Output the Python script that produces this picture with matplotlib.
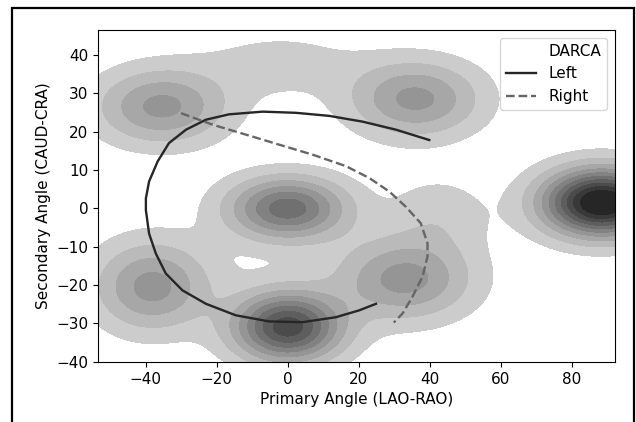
import numpy as np
import matplotlib.pyplot as plt
from matplotlib.lines import Line2D
from matplotlib.patches import Rectangle

# density components (centre, spread, peak height)
cx = [-35.5, 36.1, 0, -38.2, 33, 0, 88.5, -2, -3, 42.5]
cy = [26.5, 28.5, 0, -20.5, -18.5, -31, 1.5, 37.5, -15, -2]
sx = [12.2, 12.2, 11.1, 10.6, 12.5, 10.2, 11.1, 17, 34, 9.8]
sy = [6.5, 6.6, 5.4, 7.6, 7.0, 6.0, 5.8, 6.5, 11, 7.0]
peak = [0.38, 0.38, 0.60, 0.38, 0.38, 0.80, 1.10, 0.09, 0.024, 0.11]

# trajectories
left_x = [39.9, 30.5, 21.1, 11.7, 2.3, -7.0, -16.5, -23.0, -28.6, -33.4, -36.6, -39.0,
          -39.9, -39.9, -39.0, -37.1, -34.3, -29.6, -23.0, -14.6, -5.2, 4.2, 13.6, 20.2, 24.9]
left_y = [17.8, 20.5, 22.6, 24.1, 24.9, 25.2, 24.5, 23.1, 20.5, 17.0, 12.2, 7.0,
          2.6, -0.5, -6.6, -11.8, -17.0, -21.4, -24.9, -27.9, -29.5, -29.7, -28.4, -26.6, -24.9]
right_x = [-30, -21.1, -11.7, -2.4, 7.0, 16.4, 23.0, 28.6, 33.3, 37.5, 39.4, 39.4, 38.0, 35.2, 32.4, 29.9]
right_y = [24.8, 21.8, 19.2, 16.6, 14.0, 11.0, 7.9, 4.4, 0.4, -3.9, -9.1, -12.6, -17.8, -23.0, -27.4, -29.8]

xmin, xmax = -53.4, 92.2
ymin, ymax = -40.1, 46.5

gx, gy = np.meshgrid(np.linspace(xmin, xmax, 500), np.linspace(ymin, ymax, 320))
dens = np.zeros_like(gx)
for i in range(len(cx)):
    dens += peak[i] * np.exp(-((gx - cx[i])**2 / (2 * sx[i]**2) + (gy - cy[i])**2 / (2 * sy[i]**2)))

levels = [0.06] + [round(v, 2) for v in np.arange(0.15, 1.0, 0.1)]
levels.append(dens.max() + 1)
greys = np.linspace(0.80, 0.15, len(levels) - 1)
colors = [(g, g, g) for g in greys]

plt.rcParams['font.size'] = 11
fig = plt.figure(figsize=(6.36, 4.22), dpi=100)
ax = fig.add_axes([0.154, 0.142, 0.813, 0.787])
ax.contourf(gx, gy, dens, levels=levels, colors=colors)
l1, = ax.plot(left_x, left_y, color='#262626', lw=1.7)
l2, = ax.plot(right_x, right_y, color='#666666', lw=1.7, ls='--')

ax.set_xlim(xmin, xmax)
ax.set_ylim(ymin, ymax)
ax.set_xticks([-40, -20, 0, 20, 40, 60, 80])
ax.set_xlabel('Primary Angle (LAO-RAO)')
ax.set_ylabel('Secondary Angle (CAUD-CRA)')
blank = Line2D([], [], ls='none')
ax.legend([blank, l1, l2], ['DARCA', 'Left', 'Right'], loc='upper right')

fig.add_artist(Rectangle((0.019, -0.1), 0.978, 1.081, transform=fig.transFigure,
                         fill=False, ec='black', lw=1.6))
plt.savefig("out.png")
